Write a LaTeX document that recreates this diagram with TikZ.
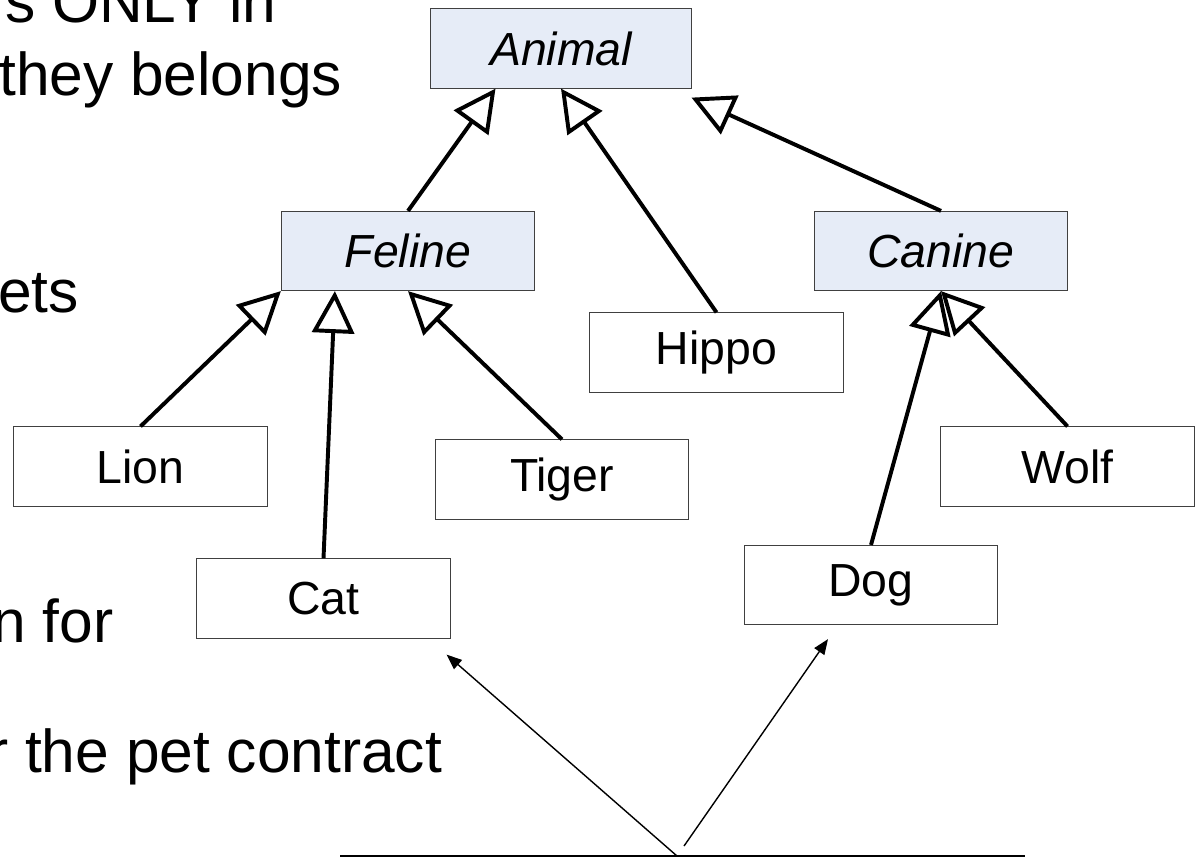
\documentclass[tikz,border=0pt]{standalone}
\usepackage{fontspec}
\setmainfont{Liberation Sans}
\usetikzlibrary{arrows.meta,positioning}
\definecolor{absFill}{HTML}{E6ECF7}
\definecolor{boxLine}{HTML}{404040}
\tikzset{
  classbox/.style={draw=boxLine, line width=0.7pt, minimum width=6.33cm,
                   minimum height=1.98cm, inner sep=0pt,
                   font=\fontsize{33}{39}\selectfont},
  absbox/.style={classbox, fill=absFill,
                 font=\fontsize{33}{39}\selectfont\itshape},
  slidetext/.style={anchor=base west, inner sep=0pt,
                    font=\fontsize{43}{52}\selectfont},
  isarrow/.style={-{Triangle[open, length=1.05cm, width=1.05cm]},
                  line width=2.8pt},
  petarrow/.style={-{Triangle[length=0.38cm, width=0.3cm]}, line width=1pt},
}

\begin{document}
\begin{tikzpicture}[x=0.025cm, y=-0.025cm]
\useasboundingbox (0,0) rectangle (1201,858);
%% Slide text
\node[slidetext] (txtA) at (5,22)    {s ONLY in};
\node[slidetext] (txtB) at (-1,95)   {they belongs};
\node[slidetext] (txtC) at (-2,312)  {ets};
\node[slidetext] (txtD) at (-8,642)  {n for};
\node[slidetext] (txtE) at (-12,772) {r the pet contract};
%% Classes
\node[absbox, minimum width=6.5cm] (animal) at (561,48.5) {Animal};
\node[absbox]   (feline) at (408,251)    {Feline};
\node[absbox]   (canine) at (941,251)    {Canine};
\node[classbox] (hippo)  at (716.5,352.5) {Hippo};
\node[classbox] (lion)   at (140.5,466.5) {Lion};
\node[classbox] (tiger)  at (562,479.5)  {Tiger};
\node[classbox] (wolf)   at (1067.5,466.5) {Wolf};
\node[classbox] (cat)    at (323.5,598.5) {Cat};
\node[classbox] (dog)    at (871,585)    {Dog};
%% Inheritance
\draw[isarrow] (feline.north) -- ([xshift=1.625cm]animal.south west);
\draw[isarrow] (hippo.north)  -- (animal.south);
\draw[isarrow] (canine.north) -- ([yshift=-0.225cm]animal.south east);
\draw[isarrow] (lion.north)   -- (feline.south west);
\draw[isarrow] (cat.north)    -- ([xshift=1.35cm]feline.south west);
\draw[isarrow] (tiger.north)  -- (feline.south);
\draw[isarrow] (dog.north)    -- (canine.south);
\draw[isarrow] (wolf.north)   -- (canine.south);
%% Pet contract
\coordinate (baseL) at (340,856);
\coordinate (baseR) at (1025,856);
\coordinate (forkL) at (677,856);
\coordinate (forkR) at (684,846);
\draw[line width=1.4pt] (baseL) -- (baseR);
\draw[petarrow] (forkL) -- ([xshift=-0.1cm, yshift=-0.4cm]cat.south east);
\draw[petarrow] (forkR) -- ([xshift=-1.075cm, yshift=-0.35cm]dog.south);
\end{tikzpicture}
\end{document}
